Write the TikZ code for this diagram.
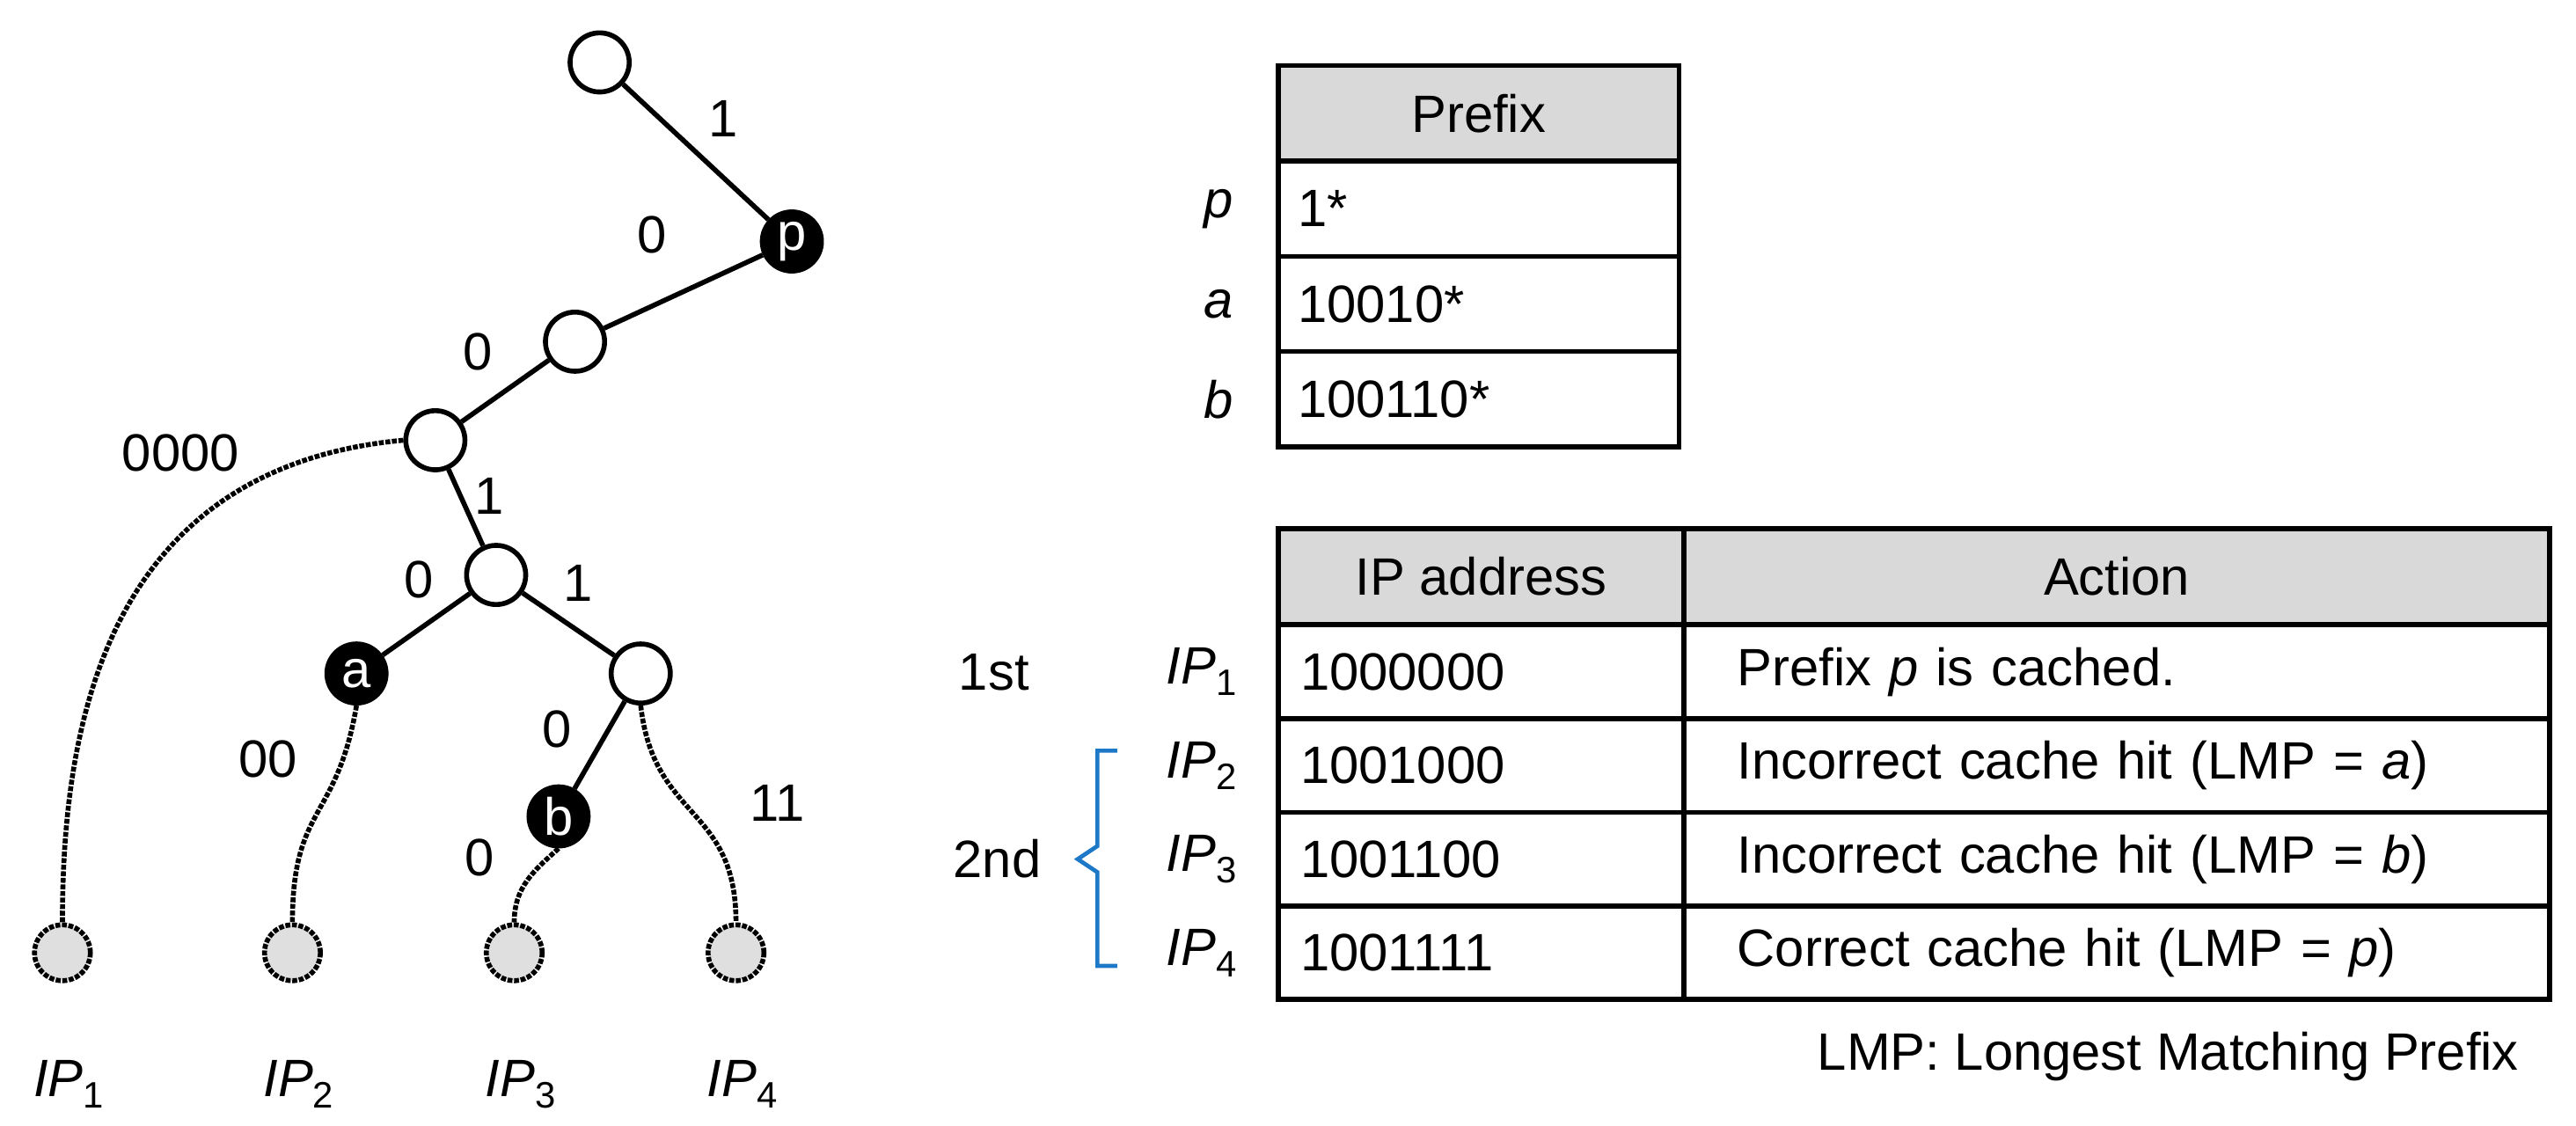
\documentclass[tikz,border=0pt]{standalone}
\usepackage{fontspec}
\setmainfont{Liberation Sans}
\begin{document}
\begin{tikzpicture}[x=1pt,y=-1pt,line width=3pt,
  font=\fontsize{32}{36}\selectfont,
  wn/.style={circle,draw,fill=white,minimum size=36pt,inner sep=0pt},
  bn/.style={circle,draw,fill=black,text=white,minimum size=36pt,inner sep=0pt},
  lf/.style={circle,draw,densely dotted,fill=gray!25,minimum size=34pt,inner sep=0pt},
  dl/.style={densely dotted},
  hd/.style={draw,fill=gray!30,minimum height=58pt,inner sep=0pt},
  cl/.style={draw,minimum height=58pt,inner sep=0pt}]
\useasboundingbox (0,0) rectangle (1568,685);
% tree
\node[wn] (r) at (365,38) {};
\node[bn] (p) at (482,147) {p};
\node[wn] (n2) at (350,208) {};
\node[wn] (n3) at (265,268) {};
\node[wn] (n4) at (302,350) {};
\node[bn] (a) at (217,410) {a};
\node[wn] (n5) at (390,410) {};
\node[bn] (b) at (340,497) {b};
\node[lf] (l1) at (38,580) {};
\node[lf] (l2) at (178,580) {};
\node[lf] (l3) at (313,580) {};
\node[lf] (l4) at (448,580) {};
\draw (r)--(p); \draw (p)--(n2); \draw (n2)--(n3); \draw (n3)--(n4);
\draw (n4)--(a); \draw (n4)--(n5); \draw (n5)--(b);
\draw[dl] (n3.west) .. controls (60,285) and (38,450) .. (l1.north);
\draw[dl] (a.south) .. controls (205,500) and (178,490) .. (l2.north);
\draw[dl] (b.south) .. controls (325,530) and (313,540) .. (l3.north);
\draw[dl] (n5.south) .. controls (398,500) and (448,490) .. (l4.north);
\node (e1) at (440,72) {1};
\node (e2) at (397,143) {0};
\node (e3) at (291,214) {0};
\node (e4) at (110,276) {0000};
\node (e5) at (298,302) {1};
\node (e6) at (255,353) {0};
\node (e7) at (352,355) {1};
\node (e8) at (163,462) {00};
\node (e9) at (339,444) {0};
\node (e10) at (473,489) {11};
\node (e11) at (292,522) {0};
\node (t1) at (42,660) {\textit{IP}\textsubscript{1}};
\node (t2) at (182,660) {\textit{IP}\textsubscript{2}};
\node (t3) at (317,660) {\textit{IP}\textsubscript{3}};
\node (t4) at (452,660) {\textit{IP}\textsubscript{4}};
% table 1
\node[hd,minimum width=244pt] (h1) at (900,69) {Prefix};
\node[cl,minimum width=244pt,text width=220pt,align=left] (c1) at (900,127) {1*};
\node[cl,minimum width=244pt,text width=220pt,align=left] (c2) at (900,185) {10010*};
\node[cl,minimum width=244pt,text width=220pt,align=left] (c3) at (900,243) {100110*};
\node (lp) at (742,127) {\textit{p}};
\node (la) at (742,185) {\textit{a}};
\node (lb) at (742,243) {\textit{b}};
% table 2
\node[hd,minimum width=247pt] (h2) at (901.5,351) {IP address};
\node[hd,minimum width=527pt] (h3) at (1288.5,351) {Action};
\foreach \y/\ip/\ac/\i in {409/1000000/{Prefix \textit{p} is cached.}/1,
  466/1001000/{Incorrect cache hit (LMP = \textit{a})}/2,
  523/1001100/{Incorrect cache hit (LMP = \textit{b})}/3,
  580/1001111/{Correct cache hit (LMP = \textit{p})}/4}{
  \node[cl,minimum height=57pt,minimum width=247pt,text width=220pt,align=left] (ip\i) at (901.5,\y) {\ip};
  \node[cl,minimum height=57pt,minimum width=527pt,text width=462pt,align=left] (ac\i) at (1288.5,\y) {\ac};
  \node[anchor=east] (li\i) at (758,\y) {\textit{IP}\textsubscript{\i}};
}
\node (s1) at (605,409) {1st};
\node (s2) at (607,523) {2nd};
\draw[line width=2.5pt,color={rgb,255:red,30;green,120;blue,200}] (680,457) -- (668,457) -- (668,515) -- (656,523) -- (668,531) -- (668,588) -- (680,588);
\node[anchor=east] (note) at (1538,643) {LMP: Longest Matching Prefix};
\end{tikzpicture}
\end{document}
